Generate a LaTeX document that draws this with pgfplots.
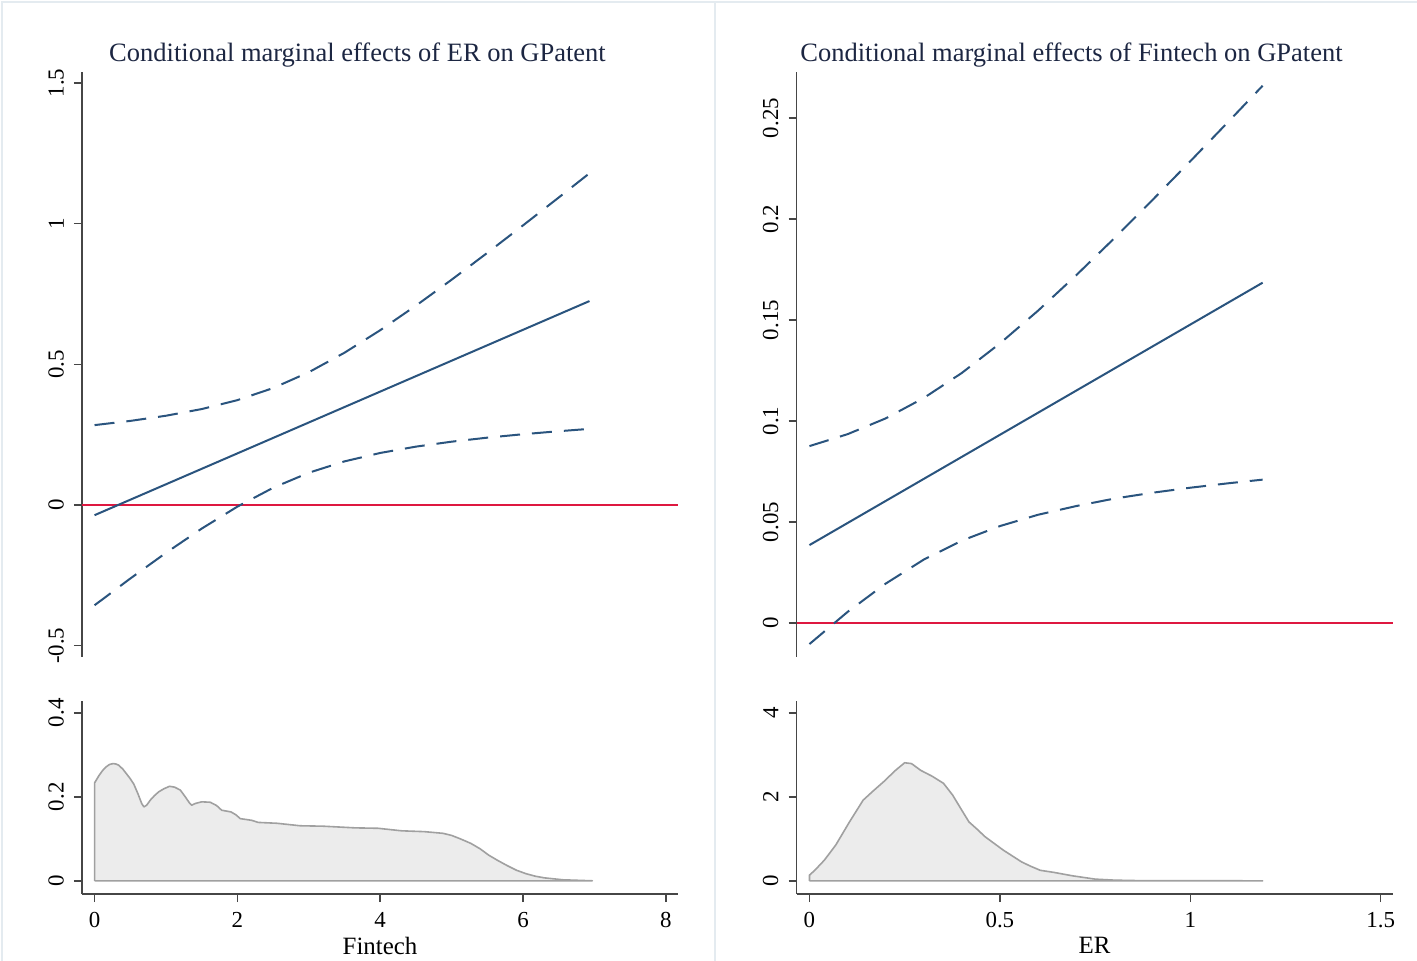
\documentclass[border=0pt]{standalone}
\usepackage{pgfplots}
\pgfplotsset{compat=1.18}
\usepackage{fontspec}
\setmainfont{Liberation Serif}
\definecolor{lineblue}{RGB}{42,84,126}
\definecolor{zerored}{RGB}{222,24,64}
\definecolor{axisgray}{RGB}{70,70,70}
\definecolor{densfill}{RGB}{236,236,236}
\definecolor{densline}{RGB}{160,160,160}
\definecolor{sepc}{RGB}{228,235,240}
\definecolor{titlec}{RGB}{28,38,66}
\pgfplotsset{
  base/.style={
    scale only axis, clip=false,
    axis line style={draw=axisgray, line width=0.75bp},
    tick style={draw=axisgray, line width=0.75bp},
    major tick length=4bp, tick align=outside,
    ticklabel style={font=\fontsize{11.5}{13}\selectfont, text=black},
    yticklabel style={rotate=90, anchor=south, yshift=1.5bp},
    xticklabel style={yshift=-1.5bp},
    label style={font=\fontsize{12.5}{14}\selectfont},
  },
  topax/.style={base, axis x line=none, axis y line*=left, xtick=\empty,
    width=298bp, height=292.5bp},
  botax/.style={base, axis lines*=left, width=298bp, height=96.5bp,
    xlabel style={yshift=2bp}},
  ci/.style={draw=lineblue, line width=1bp, dash pattern=on 10bp off 6bp},
  mid/.style={draw=lineblue, line width=1bp},
  zero/.style={draw=zerored, line width=0.8bp},
  dens/.style={draw=densline, fill=densfill, line width=0.8bp, line join=round},
}
\begin{document}
\begin{tikzpicture}
\useasboundingbox (0,0) rectangle (708.5bp,480.5bp);
\fill[white] (0,0) rectangle (708.5bp,480.5bp);
\draw[sepc, line width=1bp] (1bp,0) -- (1bp,479.5bp) -- (708.5bp,479.5bp);
\draw[sepc, line width=1bp] (357.5bp,0) -- (357.5bp,479.5bp);

\node[text=titlec, font=\fontsize{13.3}{15}\selectfont] at (178.75bp,453bp) {Conditional marginal effects of ER on GPatent};
\node[text=titlec, font=\fontsize{13.3}{15}\selectfont] at (535.75bp,453bp) {Conditional marginal effects of Fintech on GPatent};

% ---------------- left top
\begin{axis}[topax, at={(41bp,152bp)}, anchor=south west,
  xmin=-0.176, xmax=8.17, ymin=-0.54, ymax=1.539,
  ytick={-0.5,0,0.5,1,1.5}, yticklabels={-0.5,0,0.5,1,1.5}]
\addplot[zero] coordinates {(-0.176,0) (8.17,0)};
\addplot[mid] coordinates {(0,-0.036) (6.93,0.7249)};
\addplot[ci] coordinates {(0,0.2841) (0.5,0.2990) (1,0.3174) (1.5,0.3411) (2,0.3728) (2.5,0.4157) (3,0.4720) (3.5,0.5414) (4,0.6213) (4.5,0.7086) (5,0.8008) (5.5,0.8963) (6,0.9939) (6.5,1.0930) (6.93,1.1791)};
\addplot[ci] coordinates {(0,-0.3561) (0.5,-0.2612) (1,-0.1698) (1.5,-0.0837) (2,-0.0056) (2.5,0.0613) (3,0.1148) (3.5,0.1552) (4,0.1851) (4.5,0.2076) (5,0.2252) (5.5,0.2395) (6,0.2517) (6.5,0.2624) (6.93,0.2707)};
\end{axis}

% ---------------- left bottom
\begin{axis}[botax, at={(41bp,33.5bp)}, anchor=south west,
  xmin=-0.176, xmax=8.17, ymin=-0.0314, ymax=0.428,
  xtick={0,2,4,6,8}, xticklabels={0,2,4,6,8},
  ytick={0,0.2,0.4}, yticklabels={0,0.2,0.4}, xlabel={Fintech}]
\addplot[dens] coordinates {(0,0) (0,0.233) (0.06,0.250) (0.11,0.262) (0.16,0.271) (0.21,0.277) (0.26,0.279) (0.30,0.278) (0.34,0.275) (0.40,0.265) (0.45,0.254) (0.50,0.243) (0.55,0.230) (0.61,0.206) (0.66,0.184) (0.69,0.176) (0.73,0.180) (0.78,0.192) (0.84,0.203) (0.90,0.212) (0.97,0.219) (1.05,0.225) (1.12,0.223) (1.2,0.216) (1.27,0.200) (1.33,0.185) (1.36,0.180) (1.41,0.184) (1.50,0.188) (1.62,0.187) (1.71,0.179) (1.78,0.168) (1.91,0.164) (1.98,0.157) (2.04,0.148) (2.2,0.144) (2.29,0.139) (2.55,0.137) (2.88,0.131) (3.2,0.130) (3.65,0.126) (3.97,0.125) (4.3,0.119) (4.62,0.117) (4.88,0.113) (5.0,0.108) (5.12,0.100) (5.27,0.089) (5.40,0.076) (5.52,0.061) (5.65,0.048) (5.78,0.036) (5.91,0.025) (6.04,0.017) (6.17,0.011) (6.3,0.007) (6.56,0.0024) (6.97,0) (0,0)};
\end{axis}

% ---------------- right top
\begin{axis}[topax, at={(398.25bp,152bp)}, anchor=south west,
  xmin=-0.034, xmax=1.531, ymin=-0.0168, ymax=0.2728,
  ytick={0,0.05,0.1,0.15,0.2,0.25}, yticklabels={0,0.05,0.1,0.15,0.2,0.25}]
\addplot[zero] coordinates {(-0.034,0) (1.531,0)};
\addplot[mid] coordinates {(0,0.0386) (1.19,0.1685)};
\addplot[ci] coordinates {(0,0.0876) (0.1,0.0935) (0.2,0.1013) (0.3,0.1114) (0.4,0.1238) (0.5,0.1384) (0.6,0.1546) (0.7,0.1721) (0.8,0.1904) (0.9,0.2093) (1.0,0.2286) (1.1,0.2482) (1.19,0.2660)};
\addplot[ci] coordinates {(0,-0.0104) (0.1,0.0055) (0.2,0.0195) (0.3,0.0314) (0.4,0.0408) (0.5,0.0480) (0.6,0.0536) (0.7,0.0579) (0.8,0.0616) (0.9,0.0645) (1.0,0.0670) (1.1,0.0692) (1.19,0.0710)};
\end{axis}

% ---------------- right bottom
\begin{axis}[botax, at={(398.25bp,33.5bp)}, anchor=south west,
  xmin=-0.034, xmax=1.531, ymin=-0.314, ymax=4.28,
  xtick={0,0.5,1,1.5}, xticklabels={0,0.5,1,1.5},
  ytick={0,2,4}, yticklabels={0,2,4}, xlabel={ER}]
\addplot[dens] coordinates {(0,0) (0,0.135) (0.014,0.25) (0.039,0.49) (0.069,0.85) (0.105,1.40) (0.141,1.92) (0.165,2.12) (0.195,2.36) (0.226,2.63) (0.25,2.81) (0.268,2.79) (0.292,2.63) (0.322,2.49) (0.352,2.32) (0.376,2.04) (0.40,1.68) (0.419,1.40) (0.44,1.23) (0.461,1.05) (0.485,0.89) (0.509,0.73) (0.533,0.59) (0.557,0.45) (0.58,0.35) (0.606,0.25) (0.642,0.20) (0.69,0.12) (0.75,0.04) (0.80,0.016) (0.86,0.005) (0.92,0.001) (1.19,0) (0,0)};
\end{axis}
\end{tikzpicture}
\end{document}
